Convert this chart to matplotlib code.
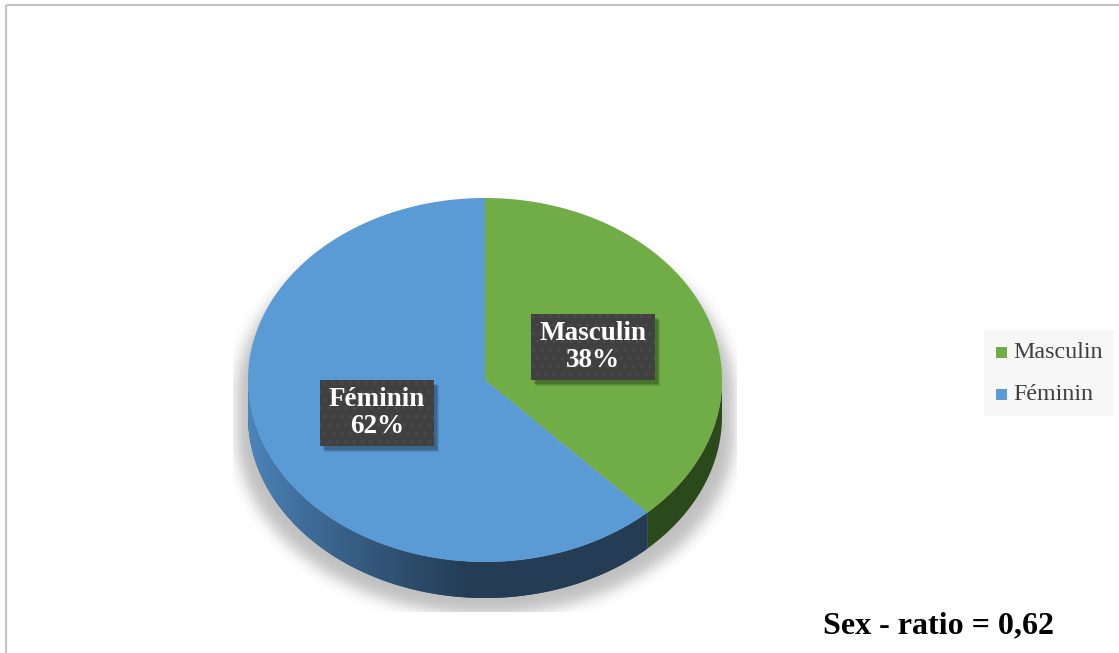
import numpy as np
import matplotlib
matplotlib.use("Agg")
import matplotlib.pyplot as plt
from matplotlib.patches import Polygon, Rectangle

# ---- data ----
categories = ["Masculin", "Féminin"]
values = [38, 62]
top_colors = ["#70ad47", "#5b9bd5"]
side_colors = ["#2b4a1b", "#243d55"]
annotation = "Sex - ratio = 0,62"

W, H = 1119, 653
fig = plt.figure(figsize=(W / 100, H / 100), dpi=100)
ax = fig.add_axes([0, 0, 1, 1])
ax.set_xlim(0, W)
ax.set_ylim(H, 0)
ax.axis("off")

SERIF = ["Liberation Serif", "DejaVu Serif"]
plt.rcParams["hatch.linewidth"] = 1.2

# border
ax.plot([6, W], [5, 5], color="#c4c4c4", lw=1.6, solid_capstyle="butt")
ax.plot([6, 6], [5, H], color="#c4c4c4", lw=1.6, solid_capstyle="butt")

# pie geometry (layout)
cx, cy, a, b, depth = 485.0, 380.0, 237.0, 182.0, 36.0


def pt(t, dy=0.0):
    t = np.radians(t)
    return cx + a * np.sin(t), cy - b * np.cos(t) + dy


fracs = np.array(values, float) / np.sum(values)
bounds = np.concatenate([[0], np.cumsum(fracs) * 360])

# ---- shadow ----
gx0, gx1, gy0, gy1 = 180, 800, 120, 680
xs = np.arange(gx0, gx1)
ys = np.arange(gy0, gy1)
X, Y = np.meshgrid(xs, ys)
sx, sy = a * 1.05, b * 1.0
off = 16
m1 = ((X - cx) / sx) ** 2 + ((Y - cy - off) / sy) ** 2 <= 1
m2 = ((X - cx) / sx) ** 2 + ((Y - cy - off - depth) / sy) ** 2 <= 1
m3 = (np.abs(X - cx) <= sx) & (Y >= cy + off) & (Y <= cy + off + depth)
mask = (m1 | m2 | m3).astype(float)
sig = 7.0
k = np.arange(-25, 26)
ker = np.exp(-k ** 2 / (2 * sig ** 2))
ker /= ker.sum()
mask = np.apply_along_axis(lambda r: np.convolve(r, ker, mode="same"), 1, mask)
mask = np.apply_along_axis(lambda c: np.convolve(c, ker, mode="same"), 0, mask)
rgba = np.zeros(mask.shape + (4,))
rgba[..., :3] = 0.55
rgba[..., 3] = mask * 0.55
im = ax.imshow(rgba, extent=(gx0, gx1, gy1, gy0), origin="upper", zorder=1, interpolation="bilinear")
clip = Rectangle((233, 130), 737 - 233, 612 - 130, transform=ax.transData)
im.set_clip_path(clip)

# ---- sides ----
for i in range(len(values)):
    t0, t1 = max(bounds[i], 90), min(bounds[i + 1], 270)
    if t1 <= t0:
        continue
    ts = np.linspace(t0, t1, 200)
    x_top, y_top = pt(ts)
    x_bot, y_bot = pt(ts[::-1], depth)
    poly = np.column_stack([np.concatenate([x_top, x_bot]), np.concatenate([y_top, y_bot])])
    p = Polygon(poly, closed=True, facecolor=side_colors[i], edgecolor="none", zorder=2)
    ax.add_patch(p)
    if i == 1:
        gx = np.linspace(0, 1, 300)
        c_light = np.array([0x4d, 0x86, 0xbd]) / 255
        c_dark = np.array([0x24, 0x3d, 0x55]) / 255
        w = np.clip(gx / 0.55, 0, 1) ** 0.8
        grad = c_light[None, :] * (1 - w[:, None]) + c_dark[None, :] * w[:, None]
        img = np.tile(grad[None, :, :], (10, 1, 1))
        xmin, xmax = poly[:, 0].min(), poly[:, 0].max()
        gim = ax.imshow(img, extent=(xmin, xmax, poly[:, 1].max(), poly[:, 1].min()),
                        zorder=2.5, aspect="auto", interpolation="bilinear")
        gim.set_clip_path(p)

# ---- top face ----
for i in range(len(values)):
    ts = np.linspace(bounds[i], bounds[i + 1], 300)
    x, y = pt(ts)
    poly = np.column_stack([np.concatenate([[cx], x]), np.concatenate([[cy], y])])
    ax.add_patch(Polygon(poly, closed=True, facecolor=top_colors[i], edgecolor="none", zorder=3))

# ---- data labels ----
fig.canvas.draw()
for i, cat in enumerate(categories):
    mid = (bounds[i] + bounds[i + 1]) / 2
    lx, ly = pt(mid)
    lx = cx + (lx - cx) * 0.49
    ly = cy + (ly - cy) * 0.49
    txt = f"{cat}\n{values[i]}%"
    t = ax.text(lx, ly, txt, ha="center", va="center", color="white", fontsize=19.5,
                fontweight="bold", family=SERIF, linespacing=1.12, zorder=6)
    fig.canvas.draw()
    bb = t.get_window_extent().transformed(ax.transData.inverted())
    x0, x1 = min(bb.x0, bb.x1), max(bb.x0, bb.x1)
    y0, y1 = min(bb.y0, bb.y1), max(bb.y0, bb.y1)
    padx, pady = 9, 7
    for s, al in [(6, 0.10), (5, 0.12), (4, 0.15)]:
        ax.add_patch(Rectangle((x0 - padx + s - 1, y0 - pady + s), (x1 - x0) + 2 * padx, (y1 - y0) + 2 * pady,
                               facecolor="black", alpha=al, edgecolor="none", zorder=4))
    ax.add_patch(Rectangle((x0 - padx, y0 - pady), (x1 - x0) + 2 * padx, (y1 - y0) + 2 * pady,
                           facecolor="#404040", edgecolor="#4a4a4a", lw=0, hatch="..", zorder=5))

# ---- legend ----
ax.add_patch(Rectangle((984, 330), 130, 86, facecolor="#f7f7f7", edgecolor="none", zorder=3))
leg_y = [352, 394]
for i, cat in enumerate(categories):
    ax.add_patch(Rectangle((996, leg_y[i] - 5.5), 11, 11, facecolor=top_colors[i], edgecolor="none", zorder=4))
    ax.text(1013, leg_y[i], cat, ha="left", va="center", fontsize=17.3, color="#404040",
            family=SERIF, zorder=4)

# ---- annotation ----
ax.text(823, 633, annotation, ha="left", va="baseline", fontsize=23, fontweight="bold",
        family=SERIF, color="black")

fig.savefig("out.png", dpi=100)
